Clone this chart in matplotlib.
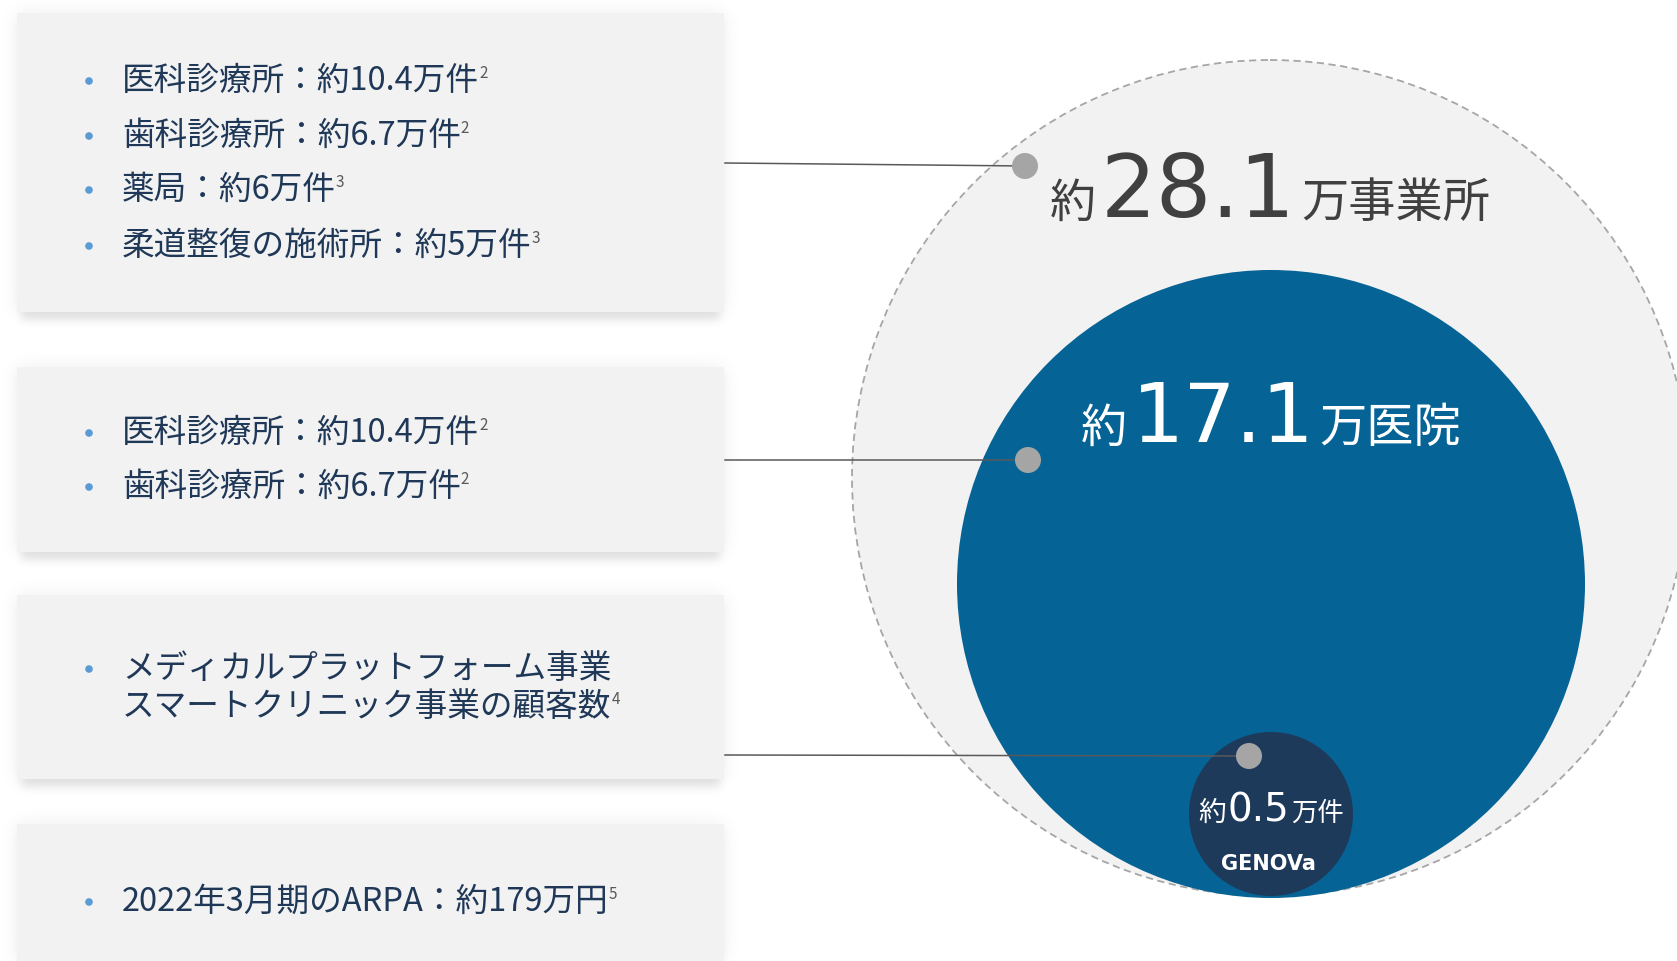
import numpy as np
import matplotlib.pyplot as plt
from matplotlib.patches import Circle, Rectangle

W, H = 1677, 961
CJK = ['Noto Sans CJK JP', 'DejaVu Sans']
plt.rcParams['font.family'] = CJK

# market size figures (万)
totals = [28.1, 17.1, 0.5]
units = ['万事業所', '万医院', '万件']
prefix = '約'

box1_lines = ['医科診療所：約10.4万件', '歯科診療所：約6.7万件', '薬局：約6万件', '柔道整復の施術所：約5万件']
box1_notes = ['2', '2', '3', '3']
box2_lines = ['医科診療所：約10.4万件', '歯科診療所：約6.7万件']
box2_notes = ['2', '2']
box3_lines = ['メディカルプラットフォーム事業', 'スマートクリニック事業の顧客数']
box3_notes = ['', '4']
box4_lines = ['2022年3月期のARPA：約179万円']
box4_notes = ['5']

# layout in pixels
boxes = [(17, 13, 707, 299), (17, 367, 707, 185), (17, 595, 707, 184), (17, 824, 707, 150)]
box_line_y = [[81, 136, 190, 246], [433, 487], [669, 707], [902]]
box_bullets = [[True] * 4, [True] * 2, [True, False], [True]]
all_lines = [box1_lines, box2_lines, box3_lines, box4_lines]
all_notes = [box1_notes, box2_notes, box3_notes, box4_notes]

circles = [(1270, 478, 418), (1271, 584, 314), (1271, 814, 82)]
label_base = [217, 442, 821]
label_sizes = [(33, 63, 34), (33, 59, 34), (20, 28, 19)]
label_gaps = [5, 5, 2]
label_colors = ['#404040', 'white', 'white']
dots = [(1025, 166), (1028, 460), (1249, 756)]
line_starts = [(725, 163), (725, 460), (725, 755)]

fig = plt.figure(figsize=(W / 100, H / 100), dpi=100)
ax = fig.add_axes([0, 0, 1, 1])


def blur(a, sigma):
    k = np.arange(-3 * sigma, 3 * sigma + 1)
    k = np.exp(-0.5 * (k / sigma) ** 2)
    k /= k.sum()
    a = np.apply_along_axis(lambda r: np.convolve(r, k, mode='same'), 1, a)
    a = np.apply_along_axis(lambda c: np.convolve(c, k, mode='same'), 0, a)
    return a


# soft drop shadow behind the text boxes
glow = np.zeros((H, W))
drop = np.zeros((H, W))
for x, y, w, h in boxes:
    glow[max(y, 0):y + h, x:x + w] = 1
    drop[y + 8:y + h + 8, x + 4:x + w - 4] = 1
shade = np.clip(blur(glow, 10) * 0.07 + blur(drop, 4) * 0.09, 0, 1)
rgba = np.zeros((H, W, 4))
rgba[..., 3] = shade
ax.imshow(rgba, extent=(0, W, H, 0), zorder=0, interpolation='bilinear')

for x, y, w, h in boxes:
    ax.add_patch(Rectangle((x, y), w, h, facecolor='#f2f2f2', edgecolor='none', zorder=1))

for lines, notes, ys, bullets in zip(all_lines, all_notes, box_line_y, box_bullets):
    for s, note, y, b in zip(lines, notes, ys, bullets):
        if b:
            ax.add_patch(Circle((89, y), 3.8, facecolor='#5b9bd5', edgecolor='none', zorder=3))
        t = ax.text(122, y, s, fontsize=23.5, color='#1f3857', va='center', ha='left', zorder=3)
        if note:
            ax.annotate(note, xy=(1, 1), xycoords=t, xytext=(0, 0), textcoords='offset points',
                        fontsize=11, color='#595959', va='top', ha='left', zorder=3)

# nested circles
ax.add_patch(Circle(circles[0][:2], circles[0][2], facecolor='#f2f2f2', edgecolor='#a6a6a6',
                    linewidth=1.3, linestyle=(0, (4, 2.5)), zorder=1))
ax.add_patch(Circle(circles[1][:2], circles[1][2], facecolor='#066395', edgecolor='none', zorder=2))
ax.add_patch(Circle(circles[2][:2], circles[2][2], facecolor='#1e3a5a', edgecolor='none', zorder=3))

# leader lines to the circles
for (x0, y0), (x1, y1) in zip(line_starts, dots):
    ax.plot([x0, x1], [y0, y1], color='#595959', linewidth=1.1, zorder=4)
    ax.add_patch(Circle((x1, y1), 13, facecolor='#a5a5a5', edgecolor='none', zorder=5))

renderer = fig.canvas.get_renderer()
for val, unit, base, sizes, gap, col, c in zip(totals, units, label_base, label_sizes,
                                               label_gaps, label_colors, circles):
    parts = [(prefix, sizes[0], CJK), (f'{val}', sizes[1], ['DejaVu Sans']), (unit, sizes[2], CJK)]
    arts = [ax.text(0, base, s, fontsize=fs, family=fam, color=col, va='baseline', ha='left', zorder=6)
            for s, fs, fam in parts]
    widths = [a.get_window_extent(renderer).width for a in arts]
    x = c[0] - (sum(widths) + gap * (len(widths) - 1)) / 2
    for a, w in zip(arts, widths):
        a.set_x(x)
        x += w + gap

ax.text(1268, 864, 'GENOVa', fontsize=15, family='DejaVu Sans', fontweight='bold', color='white',
        ha='center', va='center', zorder=6)

ax.set_xlim(0, W)
ax.set_ylim(H, 0)
ax.set_aspect('auto')
ax.axis('off')

fig.savefig('out.png', dpi=100, facecolor='white')
